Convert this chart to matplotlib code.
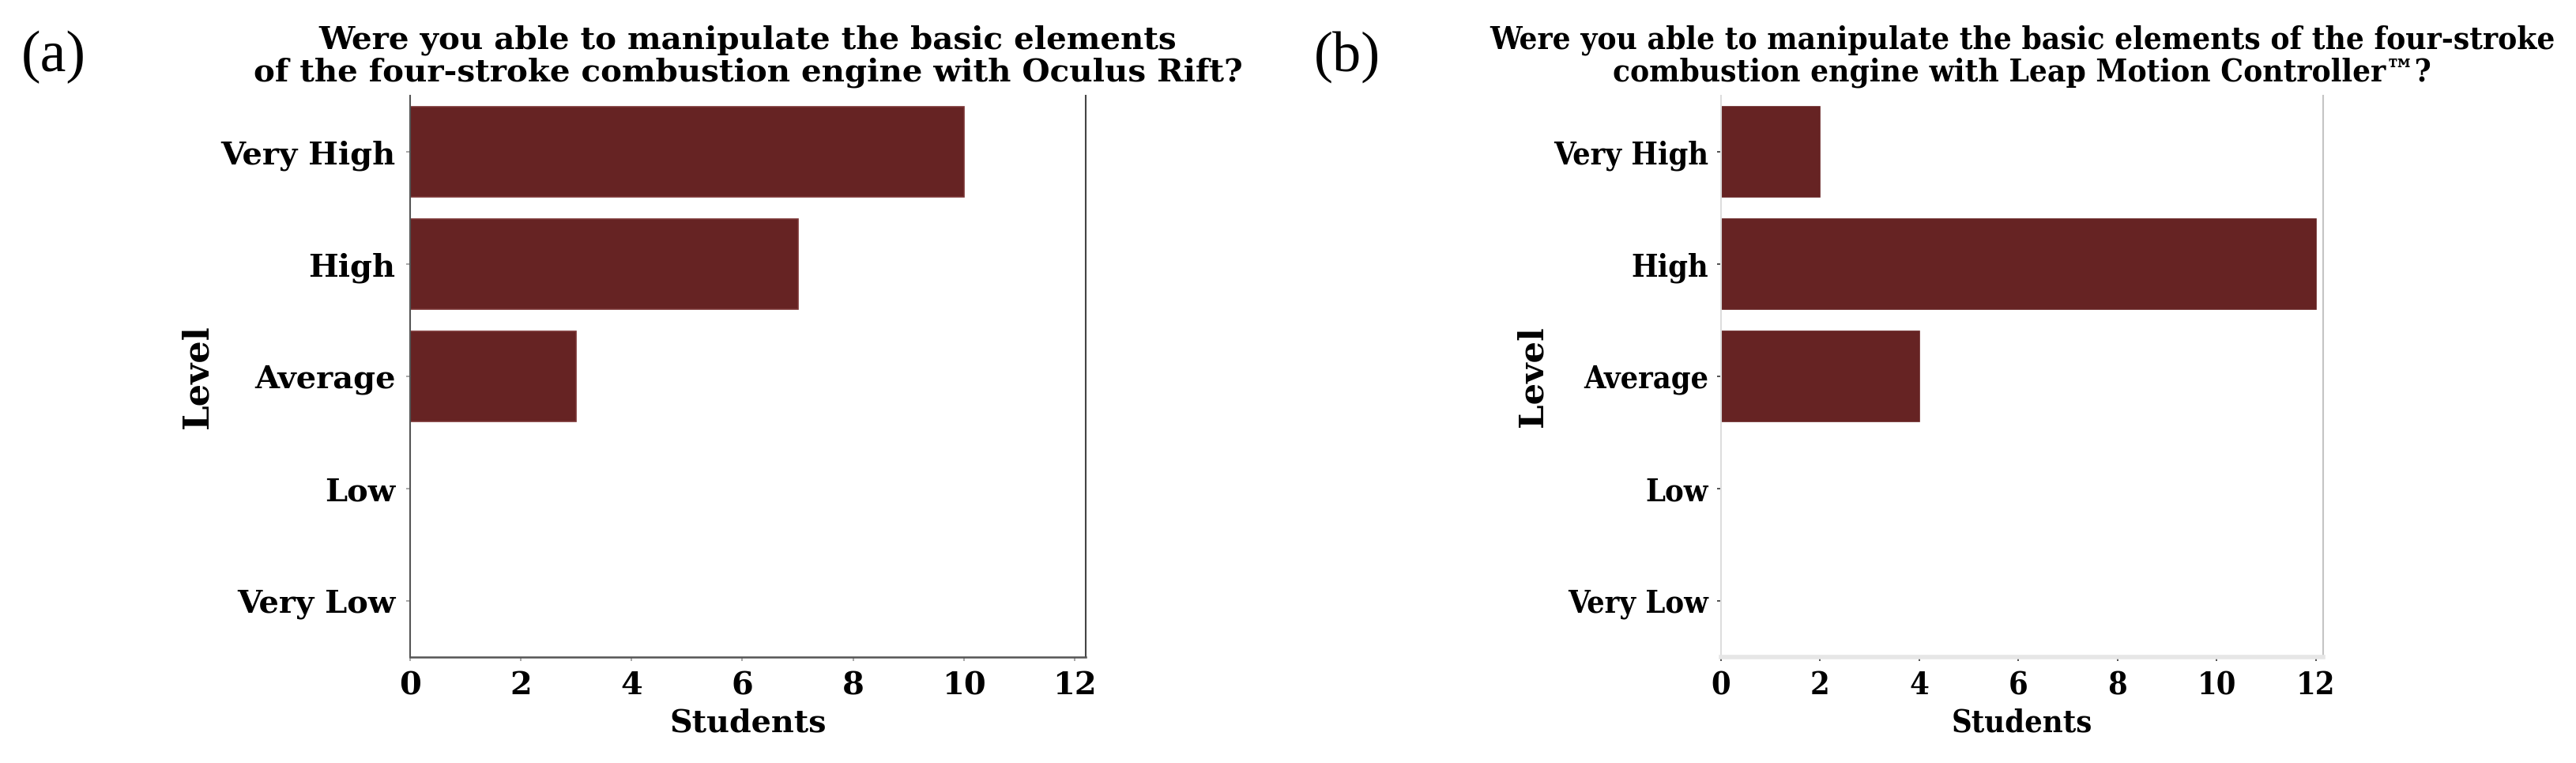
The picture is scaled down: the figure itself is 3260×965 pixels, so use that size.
import matplotlib
matplotlib.use("Agg")
import matplotlib.pyplot as plt
import numpy as np

levels = ["Very High", "High", "Average", "Low", "Very Low"]
oculus_students = [10, 7, 3, 0, 0]
leap_students = [2, 12, 4, 0, 0]
x_ticks = [0, 2, 4, 6, 8, 10, 12]

title_a = "Were you able to manipulate the basic elements\nof the four-stroke combustion engine with Oculus Rift?"
title_b = "Were you able to manipulate the basic elements of the four-stroke\ncombustion engine with Leap Motion Controller\u2122?"

bar_color = "#662323"
W, H = 3260, 965
fig = plt.figure(figsize=(W / 100, H / 100), dpi=100)
fig.patch.set_facecolor("white")
renderer = fig.canvas.get_renderer()

serif = "DejaVu Serif"


def box(l, r, t, b):
    return [l / W, (H - b) / H, (r - l) / W, (b - t) / H]


def fit_width(txt, target):
    w = txt.get_window_extent(renderer).width
    txt.set_fontsize(txt.get_fontsize() * target / w)


def fit_height(txt, target):
    h = txt.get_window_extent(renderer).height
    txt.set_fontsize(txt.get_fontsize() * target / h)


def make_panel(px, values, xmax, title, title_w, tick_w, stud_w, level_h,
               spine_col, right_col, bottom_col, bottom_lw, tick_col, edge,
               ylabel_x, ypad, xpad, stretch):
    l, r, t, b = px
    ax = fig.add_axes(box(l, r, t, b))
    y = np.arange(len(levels))
    ax.barh(y, values, height=0.8, color=bar_color, edgecolor=edge, linewidth=1.2)
    ax.set_ylim(len(levels) - 0.5, -0.5)
    ax.set_xlim(0, xmax)
    ax.set_yticks(y)
    ax.set_yticklabels(levels, fontsize=20, fontweight="bold", family=serif, fontstretch=stretch)
    ax.set_xticks(x_ticks)
    ax.set_xticklabels([str(v) for v in x_ticks], fontsize=20, fontweight="bold",
                       family=serif, fontstretch=stretch)
    ax.tick_params(axis="y", length=3.5, width=1.2, color=tick_col, pad=ypad)
    ax.tick_params(axis="x", length=3.5, width=1.2, color=tick_col, pad=xpad)
    ax.spines["top"].set_visible(False)
    ax.spines["left"].set_color(spine_col)
    ax.spines["left"].set_linewidth(1.5)
    ax.spines["right"].set_color(right_col)
    ax.spines["right"].set_linewidth(1.5)
    ax.spines["bottom"].set_color(bottom_col)
    ax.spines["bottom"].set_linewidth(bottom_lw)

    # tick label size fitted to the width of "Very High"
    lab = ax.get_yticklabels()[0]
    w = lab.get_window_extent(renderer).width
    fs = 20 * tick_w / w
    for tl in ax.get_yticklabels() + ax.get_xticklabels():
        tl.set_fontsize(fs)

    tt = ax.set_title(title, fontsize=20, fontweight="bold", family=serif,
                      fontstretch=stretch, pad=13, linespacing=1.1)
    fit_width(tt, title_w)

    xl = ax.set_xlabel("Students", fontsize=20, fontweight="bold", family=serif,
                       fontstretch=stretch)
    fit_width(xl, stud_w)
    xl.set_va("top")
    ax.xaxis.set_label_coords(0.5, -(895 - b) / (b - t))

    yl = ax.set_ylabel("Level", fontsize=20, fontweight="bold", family=serif)
    fit_height(yl, level_h)
    yl.set_va("center")
    ax.yaxis.set_label_coords((ylabel_x - l) / (r - l), 0.5)
    return ax


ax_a = make_panel((519, 1374, 121, 831), oculus_students, 12.2, title_a, 1255, 221, 199, 132,
                  "#555555", "#444444", "#555555", 1.8, "#999999", "#7a3434", 250, 10, 9,
                  "normal")
ax_b = make_panel((2178, 2940, 121, 831), leap_students, 12.15, title_b, 1346, 196, 178, 128,
                  "#dddddd", "#c4c4c4", "#e6e6e6", 4.0, "#333333", bar_color, 1939, 8, 9,
                  "condensed")

ta = fig.text(27 / W, 1 - 72 / H, "(a)", fontsize=40, family="Liberation Serif", va="center", ha="left")
fit_width(ta, 82)
tb = fig.text(1663 / W, 1 - 72 / H, "(b)", fontsize=40, family="Liberation Serif", va="center", ha="left")
fit_width(tb, 84)

fig.savefig("out.png", dpi=100, facecolor="white")
